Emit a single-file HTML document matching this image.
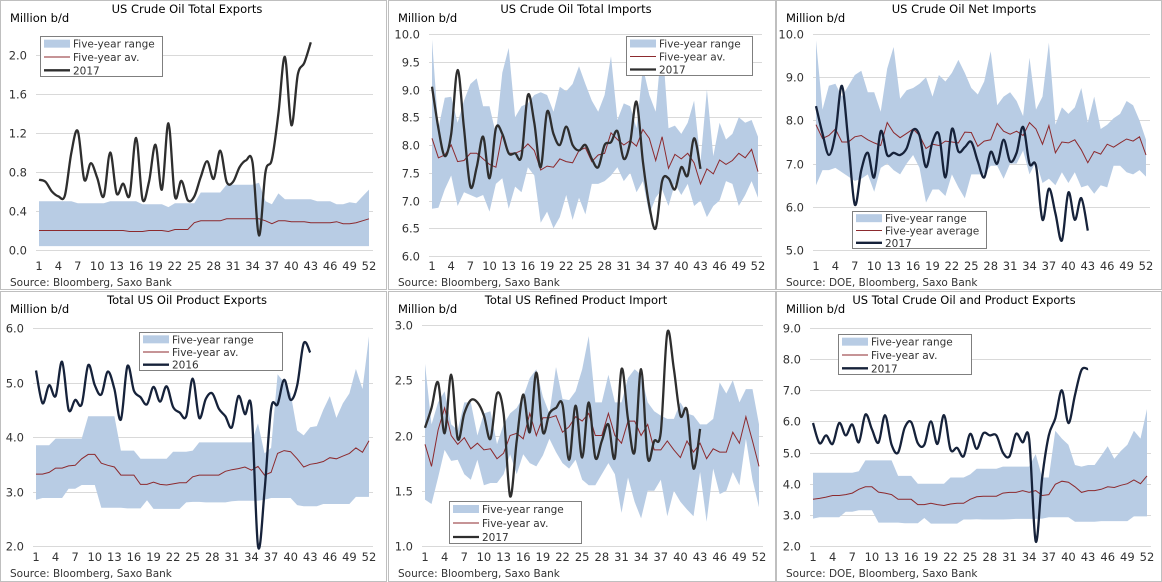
<!DOCTYPE html>
<html><head><meta charset="utf-8">
<style>
html,body{margin:0;padding:0;background:#fff;}
svg{display:block;font-family:"DejaVu Sans","Liberation Sans",sans-serif;}
</style></head>
<body>
<svg id="root" width="1162" height="582" viewBox="0 0 1162 582" xmlns="http://www.w3.org/2000/svg"></svg>
<script>
// ---------- DATA ----------
const weeks = Array.from({length:52},(_,i)=>i+1);
const xTickLabels = ['1','4','7','10','13','16','19','22','25','28','31','34','37','40','43','46','49','52'];

// Panel 1: US Crude Oil Total Exports
const p1Ticks = [0,0.4,0.8,1.2,1.6,2.0];
const p1Hi = [0.5,0.5,0.5,0.5,0.5,0.5,0.48,0.48,0.48,0.48,0.48,0.5,0.5,0.5,0.5,0.5,0.47,0.47,0.47,0.47,0.44,0.48,0.48,0.48,0.48,0.59,0.59,0.59,0.59,0.67,0.67,0.67,0.67,0.67,0.69,0.5,0.47,0.58,0.52,0.52,0.52,0.52,0.52,0.5,0.5,0.5,0.47,0.47,0.49,0.48,0.55,0.62];
const p1Lo = [0.04,0.04,0.04,0.04,0.04,0.04,0.04,0.04,0.04,0.04,0.04,0.04,0.04,0.04,0.04,0.04,0.04,0.04,0.04,0.04,0.04,0.04,0.04,0.04,0.04,0.04,0.04,0.04,0.04,0.04,0.04,0.04,0.04,0.04,0.04,0.04,0.04,0.04,0.04,0.04,0.04,0.04,0.04,0.04,0.04,0.04,0.04,0.04,0.04,0.04,0.04,0.04];
const p1Avg = [0.2,0.2,0.2,0.2,0.2,0.2,0.2,0.2,0.2,0.2,0.2,0.2,0.2,0.2,0.19,0.19,0.19,0.2,0.2,0.2,0.19,0.21,0.21,0.21,0.28,0.3,0.3,0.3,0.3,0.32,0.32,0.32,0.32,0.32,0.32,0.3,0.27,0.3,0.3,0.29,0.29,0.29,0.28,0.28,0.28,0.28,0.29,0.27,0.27,0.28,0.3,0.32];
const p1Cur = [0.72,0.7,0.6,0.55,0.56,1.0,1.22,0.72,0.89,0.74,0.55,1.0,0.58,0.68,0.56,1.15,0.52,0.7,1.08,0.62,1.3,0.55,0.71,0.51,0.55,0.75,0.91,0.73,1.02,0.7,0.7,0.85,0.92,0.9,0.15,0.8,0.93,1.4,1.98,1.28,1.8,1.92,2.13];

// Panel 2: US Crude Oil Total Imports
const p2Ticks = [6.0,6.5,7.0,7.5,8.0,8.5,9.0,9.5,10.0];
const p2Hi = [9.9,8.3,8.85,8.87,8.4,8.8,9.1,9.2,8.7,8.7,8.2,9.3,9.75,8.5,8.7,8.75,8.9,8.95,8.9,8.6,9.05,8.97,9.1,9.42,9.1,8.8,8.6,8.9,9.6,8.45,8.75,8.7,8.3,9.4,8.9,8.6,9.9,8.3,8.35,8.2,8.4,8.8,7.7,9.0,7.8,8.4,8.1,8.2,8.5,8.4,8.45,8.15];
const p2Lo = [6.85,6.87,7.2,7.45,6.9,7.15,7.1,7.05,7.1,6.8,7.3,7.4,6.85,7.25,7.15,7.6,7.45,6.6,6.8,6.5,6.7,7.1,6.65,7.05,6.75,7.3,7.3,7.35,7.45,7.6,7.35,7.5,7.15,7.35,6.75,7.05,7.2,6.9,7.3,7.1,7.3,6.9,7.0,6.7,6.9,7.0,7.35,7.3,6.9,7.1,7.35,7.05];
const p2Avg = [8.12,7.77,7.82,8.0,7.7,7.72,7.85,7.85,7.75,7.65,7.6,8.2,7.85,7.85,7.9,8.02,7.9,7.55,7.62,7.6,7.75,7.7,7.68,7.9,7.95,7.7,7.82,7.85,8.22,8.1,8.0,8.08,7.98,8.28,8.12,7.72,8.15,7.58,7.83,7.75,7.85,7.68,7.3,7.57,7.48,7.73,7.65,7.72,7.85,7.77,7.92,7.52];
const p2Cur = [9.05,8.3,7.8,8.2,9.35,8.3,7.25,7.6,8.15,7.4,8.3,8.2,7.85,7.85,7.8,8.9,8.4,7.6,8.6,8.2,8.0,8.33,8.0,7.9,8.0,7.75,7.6,8.0,8.05,8.25,7.75,8.05,8.78,7.7,6.9,6.5,7.35,7.4,7.2,7.6,7.45,8.12,7.57];

// Panel 3: US Crude Oil Net Imports
const p3Ticks = [5.0,6.0,7.0,8.0,9.0,10.0];
const p3Hi = [9.85,8.25,8.8,8.85,8.55,8.8,9.05,9.15,8.65,8.65,8.2,9.2,9.7,8.5,8.7,8.75,8.85,9.0,8.55,9.05,8.9,9.1,9.4,9.1,8.75,8.6,8.9,9.6,8.35,8.55,8.65,8.45,8.1,9.45,8.25,8.55,9.8,7.9,8.3,8.15,8.3,8.75,7.95,8.55,7.8,7.9,8.05,8.15,8.45,8.35,8.0,7.55];
const p3Lo = [6.5,6.85,6.85,6.9,6.8,6.7,6.6,6.65,6.75,6.35,6.9,7.0,6.85,6.75,7.0,7.2,6.9,6.1,6.4,6.4,6.25,6.75,6.45,6.2,6.75,6.75,6.75,6.95,6.95,6.65,7.0,7.0,7.3,6.75,7.05,6.55,6.65,6.5,6.8,6.55,6.8,6.45,6.5,6.3,6.5,6.45,6.95,6.95,6.8,6.75,6.85,6.7];
const p3Avg = [7.9,7.58,7.65,7.8,7.5,7.5,7.62,7.65,7.55,7.48,7.42,7.95,7.72,7.6,7.7,7.8,7.65,7.35,7.45,7.42,7.52,7.5,7.48,7.73,7.72,7.4,7.52,7.55,7.93,7.75,7.68,7.75,7.65,7.95,7.8,7.45,7.88,7.25,7.5,7.48,7.55,7.32,7.02,7.28,7.22,7.45,7.38,7.48,7.57,7.52,7.62,7.2];
const p3Cur = [8.33,7.7,7.2,7.7,8.8,7.5,6.05,6.85,7.25,6.68,7.75,7.2,7.25,7.2,7.35,7.78,7.65,6.92,7.5,7.68,6.68,7.8,7.28,7.38,7.5,7.05,6.68,7.27,7.0,7.55,7.05,7.25,7.85,7.0,6.95,5.7,6.42,5.85,5.22,6.33,5.7,6.2,5.45];

// Panel 4: Total US Oil Product Exports
const p4Ticks = [2.0,3.0,4.0,5.0,6.0];
const p4Hi = [3.85,3.85,3.85,3.97,3.97,3.97,3.97,3.97,4.38,4.38,4.38,4.38,4.38,3.75,3.75,3.75,3.6,3.6,3.6,3.6,3.6,3.73,3.73,3.73,3.75,3.9,3.9,3.9,3.9,3.9,3.9,3.9,3.9,3.9,4.25,3.7,3.8,5.15,5.0,4.8,4.12,4.03,4.18,4.2,4.5,4.75,4.35,4.62,4.8,5.25,4.88,5.85];
const p4Lo = [2.85,2.88,2.88,2.88,2.88,3.05,3.05,3.12,3.12,3.12,2.7,2.7,2.7,2.7,2.69,2.69,2.69,2.84,2.68,2.68,2.68,2.68,2.68,2.8,2.81,2.81,2.8,2.8,2.8,2.8,2.82,2.83,2.83,2.83,2.83,2.85,2.88,2.88,2.88,2.88,2.75,2.73,2.73,2.73,2.77,2.77,2.77,2.77,2.77,2.9,2.9,2.9];
const p4Avg = [3.32,3.32,3.35,3.43,3.43,3.47,3.48,3.6,3.68,3.68,3.52,3.48,3.45,3.3,3.3,3.3,3.13,3.13,3.17,3.13,3.12,3.14,3.16,3.16,3.27,3.3,3.3,3.3,3.3,3.37,3.4,3.42,3.45,3.39,3.46,3.3,3.35,3.7,3.75,3.73,3.6,3.45,3.5,3.52,3.55,3.62,3.6,3.65,3.7,3.8,3.72,3.93];
const p4Cur = [5.22,4.62,4.95,4.75,5.38,4.5,4.68,4.6,5.32,4.95,4.78,5.2,4.88,4.32,5.3,4.85,4.73,4.6,4.92,4.65,4.93,4.55,4.45,4.38,5.07,4.35,4.7,4.8,4.52,4.38,4.18,4.75,4.42,4.52,2.0,3.0,4.52,4.6,5.05,4.68,4.95,5.72,5.55];

// Panel 5: Total US Refined Product Import
const p5Ticks = [1.0,1.5,2.0,2.5,3.0];
const p5Hi = [2.65,2.1,2.3,2.4,2.1,2.05,2.3,2.3,2.0,2.2,2.22,1.92,2.1,2.2,2.25,2.35,2.52,2.6,2.35,2.2,2.62,2.33,2.32,2.4,2.6,2.9,2.3,2.3,2.55,2.3,2.3,2.52,2.6,2.55,2.3,2.22,2.18,2.15,2.15,2.3,2.2,2.18,2.1,2.1,2.15,2.48,2.38,2.5,2.3,2.42,2.42,2.1];
const p5Lo = [1.42,1.38,1.62,1.87,1.77,1.78,1.65,1.6,1.78,1.55,1.57,1.57,1.65,1.83,1.65,1.83,1.75,1.72,1.82,1.97,1.85,1.75,1.7,1.78,1.6,1.55,1.55,1.65,1.75,1.65,1.3,1.62,1.4,1.25,1.5,1.5,1.6,1.27,1.5,1.4,1.33,1.27,1.67,1.22,1.7,1.47,1.5,1.67,1.55,1.97,1.6,1.35];
const p5Avg = [1.92,1.72,2.05,2.25,2.0,1.92,1.98,1.88,1.93,1.87,1.88,1.79,1.84,2.0,2.02,1.97,2.2,2.0,2.16,2.16,2.18,2.03,2.08,2.17,2.13,2.2,2.0,2.0,2.2,2.0,1.93,2.13,2.13,2.0,2.1,1.87,1.87,1.95,1.87,1.8,1.95,1.85,1.93,1.79,1.88,1.85,1.85,2.03,1.93,2.17,1.95,1.72];
const p5Cur = [2.07,2.25,2.48,2.02,2.55,1.97,2.2,2.32,2.3,2.18,1.97,2.38,2.2,1.45,1.95,2.37,2.03,2.57,2.03,2.2,2.25,2.28,1.78,2.27,1.8,2.3,1.8,1.95,2.1,1.8,2.6,2.15,1.85,2.6,1.8,1.95,2.03,2.93,2.6,2.18,2.23,1.7,2.06];

// Panel 6: US Total Crude Oil and Product Exports
const p6Ticks = [2.0,3.0,4.0,5.0,6.0,7.0,8.0,9.0];
const p6Hi = [4.35,4.35,4.35,4.35,4.35,4.35,4.35,4.4,4.75,4.75,4.75,4.75,4.75,4.25,4.25,4.25,4.0,4.0,4.0,4.0,4.0,4.2,4.2,4.2,4.3,4.48,4.48,4.48,4.48,4.55,4.55,4.55,4.55,4.55,4.95,4.2,4.2,5.7,5.45,5.25,4.6,4.55,4.6,4.6,4.9,5.2,4.8,5.05,5.25,5.7,5.45,6.4];
const p6Lo = [2.88,2.92,2.92,2.92,2.92,3.1,3.1,3.15,3.15,3.15,2.75,2.75,2.75,2.75,2.73,2.73,2.73,2.9,2.72,2.72,2.72,2.72,2.72,2.85,2.85,2.86,2.85,2.85,2.85,2.85,2.86,2.87,2.87,2.87,2.87,2.88,2.92,2.92,2.92,2.92,2.78,2.78,2.78,2.78,2.8,2.8,2.8,2.8,2.8,2.95,2.95,2.95];
const p6Avg = [3.5,3.53,3.57,3.62,3.62,3.65,3.7,3.82,3.9,3.9,3.73,3.7,3.65,3.5,3.5,3.5,3.33,3.33,3.37,3.33,3.3,3.35,3.37,3.37,3.5,3.58,3.6,3.6,3.6,3.7,3.72,3.72,3.78,3.72,3.78,3.62,3.65,3.98,4.08,4.05,3.9,3.72,3.78,3.78,3.82,3.9,3.88,3.95,4.0,4.12,4.0,4.25];
const p6Cur = [5.95,5.3,5.55,5.28,5.95,5.55,5.9,5.33,6.22,5.75,5.32,6.2,5.25,5.0,5.8,5.98,5.3,5.25,6.0,5.28,6.2,5.1,5.15,4.88,5.6,5.12,5.62,5.55,5.55,5.0,4.88,5.6,5.33,5.45,2.15,4.2,5.55,6.1,7.0,5.95,6.85,7.65,7.68];

// ---------- LAYOUT ----------
const panels = [
 {key:'crude-exports',title:'US Crude Oil Total Exports',bx:0,by:0,bw:386,bh:289,xa:39,xb:369,v0:0,py0:250,v1:2.0,py1:55,
  ticks:p1Ticks,hi:p1Hi,lo:p1Lo,avg:p1Avg,cur:p1Cur,lc:'#2e2e2e',src:'Source: Bloomberg, Saxo Bank',
  leg:{x:40,y:36,w:122,h:40},labs:['Five-year range','Five-year av.','2017'],tcx:187},
 {key:'crude-imports',title:'US Crude Oil Total Imports',bx:388,by:0,bw:387,bh:289,xa:432,xb:758,v0:6.0,py0:256,v1:10.0,py1:34,
  ticks:p2Ticks,hi:p2Hi,lo:p2Lo,avg:p2Avg,cur:p2Cur,lc:'#2e2e2e',src:'Source: Bloomberg, Saxo Bank',
  leg:{x:626,y:36,w:126,h:39},labs:['Five-year range','Five-year av.','2017'],tcx:576},
 {key:'crude-net-imports',title:'US Crude Oil Net Imports',bx:776,by:0,bw:385,bh:289,xa:816,xb:1146,v0:5.0,py0:250,v1:10.0,py1:34,
  ticks:p3Ticks,hi:p3Hi,lo:p3Lo,avg:p3Avg,cur:p3Cur,lc:'#16223a',src:'Source: DOE, Bloomberg, Saxo Bank',
  leg:{x:852,y:211,w:134,h:37},labs:['Five-year range','Five-year average','2017'],tcx:964},
 {key:'product-exports',title:'Total US Oil Product Exports',bx:0,by:291,bw:386,bh:290,xa:36,xb:369,v0:2.0,py0:546,v1:6.0,py1:328,
  ticks:p4Ticks,hi:p4Hi,lo:p4Lo,avg:p4Avg,cur:p4Cur,lc:'#16223a',src:'Source: Bloomberg, Saxo Bank',
  leg:{x:139,y:332,w:143,h:38},labs:['Five-year range','Five-year av.','2016'],tcx:187},
 {key:'refined-imports',title:'Total US Refined Product Import',bx:388,by:291,bw:387,bh:290,xa:425,xb:759,v0:1.0,py0:546,v1:3.0,py1:325,
  ticks:p5Ticks,hi:p5Hi,lo:p5Lo,avg:p5Avg,cur:p5Cur,lc:'#2e2e2e',src:'Source: Bloomberg, Saxo Bank',
  leg:{x:449,y:501,w:132,h:42},labs:['Five-year range','Five-year av.','2017'],tcx:576},
 {key:'total-exports',title:'US Total Crude Oil and Product Exports',bx:776,by:291,bw:385,bh:290,xa:813,xb:1147,v0:2.0,py0:546,v1:9.0,py1:328,
  ticks:p6Ticks,hi:p6Hi,lo:p6Lo,avg:p6Avg,cur:p6Cur,lc:'#16223a',src:'Source: DOE, Bloomberg, Saxo Bank',
  leg:{x:838,y:334,w:133,h:40},labs:['Five-year range','Five-year av.','2017'],tcx:964}
];

const NS='http://www.w3.org/2000/svg';
const root=document.getElementById('root');
function mk(tag,attrs,parent){const e=document.createElementNS(NS,tag);for(const k in attrs)e.setAttribute(k,attrs[k]);(parent||root).appendChild(e);return e;}
function smooth(pts){
  let d='M'+pts[0][0].toFixed(1)+','+pts[0][1].toFixed(1);
  for(let i=0;i<pts.length-1;i++){
    const p0=pts[i-1]||pts[i],p1=pts[i],p2=pts[i+1],p3=pts[i+2]||p2;
    const c1=[p1[0]+(p2[0]-p0[0])/6,p1[1]+(p2[1]-p0[1])/6];
    const c2=[p2[0]-(p3[0]-p1[0])/6,p2[1]-(p3[1]-p1[1])/6];
    d+=' C'+c1[0].toFixed(1)+','+c1[1].toFixed(1)+' '+c2[0].toFixed(1)+','+c2[1].toFixed(1)+' '+p2[0].toFixed(1)+','+p2[1].toFixed(1);
  }
  return d;
}

panels.forEach(p=>{
  const g=mk('g',{});
  
  
  const xs=w=>p.xa+(w-1)*(p.xb-p.xa)/51;
  const ys=v=>p.py0+(v-p.v0)*(p.py1-p.py0)/(p.v1-p.v0);
  const fr=mk('rect',{x:p.bx+0.5,y:p.by+0.5,width:p.bw,height:p.bh,fill:'#fff',stroke:'#bfbfbf','stroke-width':1},g);
  
  
  const tt=mk('text',{x:p.tcx,y:p.by+13,'text-anchor':'middle','font-size':11.5,fill:'#000'},g);
  tt.textContent=p.title;
  
  
  const yt=mk('text',{x:p.bx+10,y:p.by+22,'font-size':11.5,fill:'#000'},g);
  yt.textContent='Million b/d';
  
  
  p.ticks.forEach(v=>{
    const y=Math.round(ys(v))+0.5;
    const gl=mk('line',{x1:p.xa-3,x2:p.xb+4,y1:y,y2:y,stroke:'#d9d9d9','stroke-width':1},g);
    
    
    const tl=mk('text',{x:p.xa-12,y:y+4,'text-anchor':'end','font-size':11.5,fill:'#333'},g);
    tl.textContent=v.toFixed(1);
    
    
  });
  xTickLabels.forEach(s=>{
    const xl=mk('text',{x:xs(+s),y:p.by+270,'text-anchor':'middle','font-size':11.5,fill:'#333'},g);
    xl.textContent=s;
    
    
  });
  let d='M'+weeks.map(w=>xs(w).toFixed(1)+','+ys(p.hi[w-1]).toFixed(1)).join(' L');
  d+=' L'+weeks.slice().reverse().map(w=>xs(w).toFixed(1)+','+ys(p.lo[w-1]).toFixed(1)).join(' L')+' Z';
  const band=mk('path',{d:d,fill:'#b8cce4',stroke:'none'},g);
  
  
  const av=mk('path',{d:'M'+weeks.map(w=>xs(w).toFixed(1)+','+ys(p.avg[w-1]).toFixed(1)).join(' L'),fill:'none',stroke:'#8c2a2e','stroke-width':1},g);
  
  
  const cp=p.cur.map((v,i)=>[xs(i+1),ys(v)]);
  const cl=mk('path',{d:smooth(cp),fill:'none',stroke:p.lc,'stroke-width':2.3,'stroke-linejoin':'round'},g);
  
  
  const L=p.leg;
  const lg=mk('g',{},g);
  
  
  mk('rect',{x:L.x+0.5,y:L.y+0.5,width:L.w,height:L.h,fill:'#fff',stroke:'#7f7f7f','stroke-width':1},lg);
  const rh=L.h/3;
  p.labs.forEach((s,i)=>{
    const cy=L.y+rh*(i+0.5)+1;
    if(i===0){mk('rect',{x:L.x+4,y:cy-4,width:26,height:8,fill:'#b8cce4'},lg);}
    else{mk('line',{x1:L.x+4,x2:L.x+30,y1:cy,y2:cy,stroke:i===1?'#8c2a2e':p.lc,'stroke-width':i===1?1:2.3},lg);}
    const t=mk('text',{x:L.x+33,y:cy+4,'font-size':10.5,fill:'#333'},lg);
    t.textContent=s;
    
    
  });
  const sr=mk('text',{x:p.bx+10,y:p.by+286,'font-size':10.5,fill:'#333'},g);
  sr.textContent=p.src;
  
  
});
</script>
</body></html>
